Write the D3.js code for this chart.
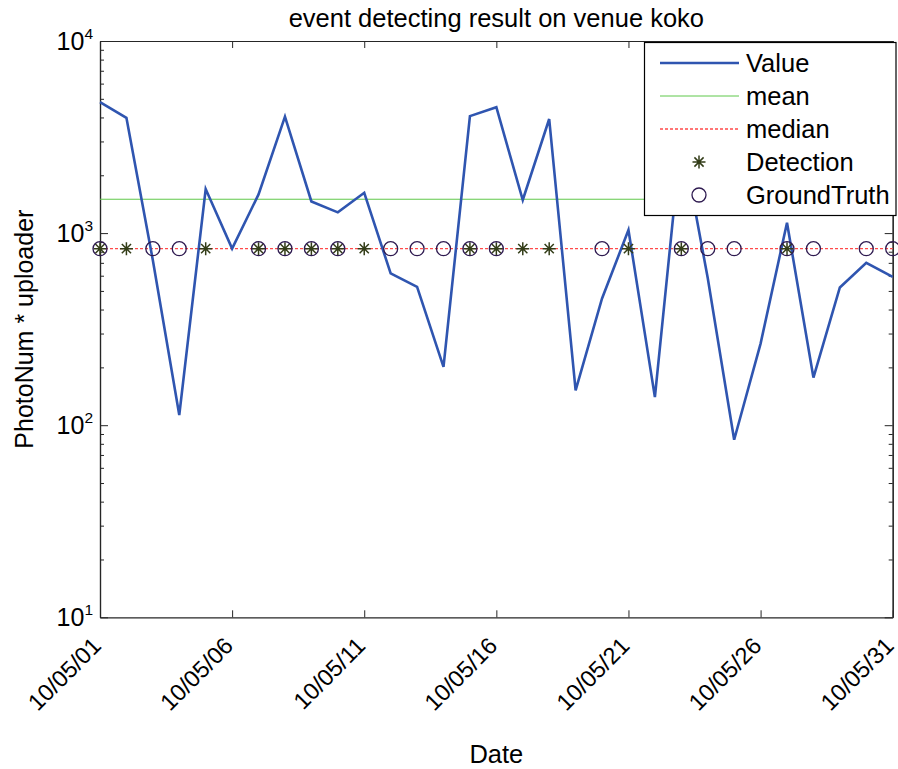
<!DOCTYPE html>
<html>
<head>
<meta charset="utf-8">
<script src="https://cdn.jsdelivr.net/npm/d3@7"></script>
<style>
  body { margin: 0; background: #fff; }
  svg { display: block; font-family: Arial, "Liberation Sans", sans-serif; }
</style>
</head>
<body>
<svg id="chart" width="898" height="769"></svg>
<script>
// one point per day in May 2010
const days = [1, 2, 3, 4, 5, 6, 7, 8, 9, 10, 11, 12, 13, 14, 15, 16, 17, 18, 19, 20, 21, 22, 23, 24, 25, 26, 27, 28, 29, 30, 31];
const values = [4800, 3980, 723, 113, 1695, 830, 1590, 4040, 1462, 1282, 1622, 617, 525, 201, 4065, 4520, 1487, 3925, 152, 457, 1038, 140, 3200, 584, 84, 266, 1132, 177, 521, 700, 592];
const detectionDays = [1, 2, 5, 7, 8, 9, 10, 11, 15, 16, 17, 18, 21, 23, 27];
const groundTruthDays = [1, 3, 4, 7, 8, 9, 10, 12, 13, 14, 15, 16, 20, 23, 24, 25, 27, 28, 30, 31];
const tickDays = [1, 6, 11, 16, 21, 26, 31];
const tickLabels = ["10/05/01", "10/05/06", "10/05/11", "10/05/16", "10/05/21", "10/05/26", "10/05/31"];
const yMajor = [10, 100, 1000, 10000];
const yExponents = ["1", "2", "3", "4"];

const svg = d3.select("#chart");
const plotLeft = 100, plotRight = 892.7, plotTop = 41, plotBottom = 617.3;

const x = d3.scaleLinear().domain([1, 31]).range([plotLeft, plotRight]);
const y = d3.scaleLog().domain([10, 10000]).range([plotBottom, plotTop]);

const meanVal = d3.mean(values);
const medianVal = d3.median(values);

// minor ticks 2..9 for each decade
const yMinor = [];
yMajor.slice(0, -1).forEach(d => { for (let k = 2; k < 10; k++) yMinor.push(d * k); });

const axisColor = "#262626";

// axes (ticks pointing inward, MATLAB style)
const gx = svg.append("g").attr("transform", `translate(0,${plotBottom})`)
  .call(d3.axisBottom(x).tickValues(tickDays).tickSize(-7).tickSizeOuter(0)
    .tickFormat((d, i) => tickLabels[i]));
gx.selectAll("text")
  .attr("x", 0).attr("y", 0).attr("dy", 0)
  .attr("transform", "translate(2,30) rotate(-45)")
  .style("text-anchor", "end")
  .style("font-size", "23.5px")
  .style("font-family", "Arial, 'Liberation Sans', sans-serif")
  .attr("fill", "#000");

svg.append("g").attr("transform", `translate(0,${plotTop})`)
  .call(d3.axisTop(x).tickValues(tickDays).tickSize(-7).tickSizeOuter(0).tickFormat(""));

svg.append("g").attr("transform", `translate(${plotLeft},0)`)
  .call(d3.axisLeft(y).tickValues(yMajor).tickSize(-8).tickSizeOuter(0).tickFormat(""));
svg.append("g").attr("transform", `translate(${plotLeft},0)`)
  .call(d3.axisLeft(y).tickValues(yMinor).tickSize(-4).tickSizeOuter(0).tickFormat(""));
svg.append("g").attr("transform", `translate(${plotRight},0)`)
  .call(d3.axisRight(y).tickValues(yMajor).tickSize(-8).tickSizeOuter(0).tickFormat(""));
svg.append("g").attr("transform", `translate(${plotRight},0)`)
  .call(d3.axisRight(y).tickValues(yMinor).tickSize(-4).tickSizeOuter(0).tickFormat(""));

svg.selectAll(".domain, .tick line").attr("stroke", axisColor);
svg.selectAll(".domain").attr("stroke-width", 1.2);

// y tick labels as 10^k
const yl = svg.append("g").selectAll("text").data(yMajor).join("text")
  .attr("x", plotLeft - 7)
  .attr("y", d => y(d))
  .attr("dy", "0.36em")
  .attr("text-anchor", "end")
  .style("font-size", "25px");
yl.append("tspan").text("10");
yl.append("tspan").attr("dy", -11).style("font-size", "15.5px").text((d, i) => yExponents[i]);

// mean and median
svg.append("line")
  .attr("x1", plotLeft).attr("x2", plotRight)
  .attr("y1", y(meanVal)).attr("y2", y(meanVal))
  .attr("stroke", "#5fc84a").attr("stroke-width", 1);
svg.append("line")
  .attr("x1", plotLeft).attr("x2", plotRight)
  .attr("y1", y(medianVal)).attr("y2", y(medianVal))
  .attr("stroke", "#ff4a4a").attr("stroke-width", 1.3).attr("stroke-dasharray", "3,2");

// value line
const line = d3.line().x((d, i) => x(days[i])).y(d => y(d));
svg.append("path").datum(values)
  .attr("d", line)
  .attr("fill", "none")
  .attr("stroke", "#2f55b0")
  .attr("stroke-width", 2.6)
  .attr("stroke-linejoin", "miter");

// asterisk marker
const starPath = r => {
  const a = r * 0.7071;
  return `M${-r},0L${r},0M0,${-r}L0,${r}M${-a},${-a}L${a},${a}M${-a},${a}L${a},${-a}`;
};
const starColor = "#333d18";
const circleColor = "#2e1a50";

svg.append("g").selectAll("path").data(detectionDays).join("path")
  .attr("transform", d => `translate(${x(d)},${y(medianVal)})`)
  .attr("d", starPath(6.5))
  .attr("stroke", starColor).attr("stroke-width", 1.5).attr("fill", "none");

svg.append("g").selectAll("circle").data(groundTruthDays).join("circle")
  .attr("cx", d => x(d)).attr("cy", y(medianVal)).attr("r", 7)
  .attr("fill", "none").attr("stroke", circleColor).attr("stroke-width", 1.3);

// title and axis labels
svg.append("text").attr("x", (plotLeft + plotRight) / 2).attr("y", 27)
  .attr("text-anchor", "middle").style("font-size", "25.5px")
  .text("event detecting result on venue koko");
svg.append("text").attr("x", (plotLeft + plotRight) / 2).attr("y", 763)
  .attr("text-anchor", "middle").style("font-size", "25.5px").text("Date");
svg.append("text").attr("transform", `translate(33,${(plotTop + plotBottom) / 2}) rotate(-90)`)
  .attr("text-anchor", "middle").style("font-size", "25px").text("PhotoNum * uploader");

// legend
const lg = svg.append("g");
lg.append("rect").attr("x", 644.5).attr("y", 42.5).attr("width", 251.5).attr("height", 173)
  .attr("fill", "#fff").attr("stroke", "#000").attr("stroke-width", 1.2);
const legendItems = ["Value", "mean", "median", "Detection", "GroundTruth"];
const rowY = i => 63 + i * 33;
lg.selectAll("text").data(legendItems).join("text")
  .attr("x", 746).attr("y", (d, i) => rowY(i)).attr("dy", "0.36em")
  .style("font-size", "25.5px").text(d => d);
lg.append("line").attr("x1", 660).attr("x2", 739).attr("y1", rowY(0)).attr("y2", rowY(0))
  .attr("stroke", "#2f55b0").attr("stroke-width", 2.6);
lg.append("line").attr("x1", 660).attr("x2", 739).attr("y1", rowY(1)).attr("y2", rowY(1))
  .attr("stroke", "#5fc84a").attr("stroke-width", 1);
lg.append("line").attr("x1", 660).attr("x2", 739).attr("y1", rowY(2)).attr("y2", rowY(2))
  .attr("stroke", "#ff4a4a").attr("stroke-width", 1.3).attr("stroke-dasharray", "3,2");
lg.append("path").attr("transform", `translate(699,${rowY(3)})`).attr("d", starPath(6.5))
  .attr("stroke", starColor).attr("stroke-width", 1.5).attr("fill", "none");
lg.append("circle").attr("cx", 699).attr("cy", rowY(4)).attr("r", 7)
  .attr("fill", "none").attr("stroke", circleColor).attr("stroke-width", 1.3);
</script>
</body>
</html>
